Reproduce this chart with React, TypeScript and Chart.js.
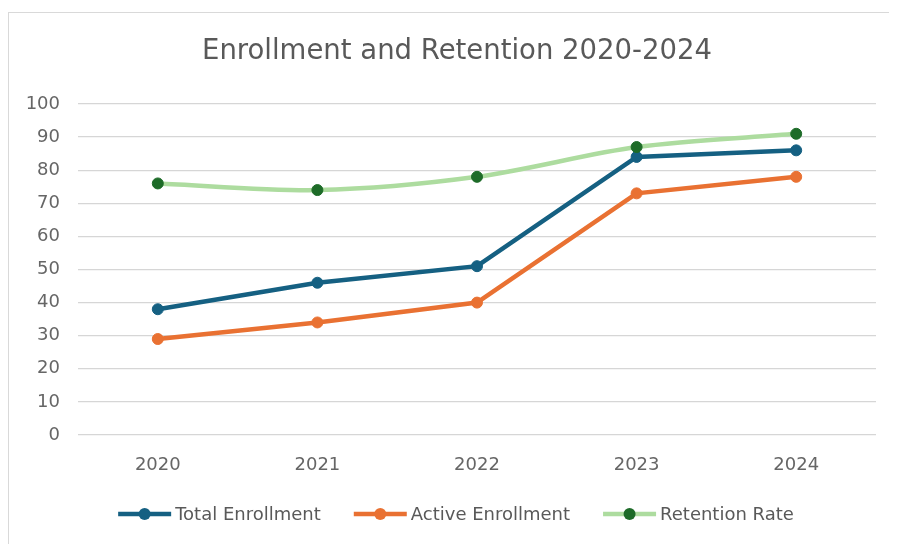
import React, { useEffect, useRef } from "react";
import { Chart, registerables } from "chart.js";

Chart.register(...registerables);

const categories = ["2020", "2021", "2022", "2023", "2024"];
const totalEnrollment = [38, 46, 51, 84, 86];
const activeEnrollment = [29, 34, 40, 73, 78];
const retentionRate = [76, 74, 78, 87, 91];
const seriesNames = ["Total Enrollment", "Active Enrollment", "Retention Rate"];
const yMin = 0;
const yMax = 100;
const yStep = 10;
const titleText = "Enrollment and Retention 2020-2024";

const FONT = "'DejaVu Sans', sans-serif";
const TEXT_COLOR = "#595959";
const CENTER_X = 447;

const titleLegendPlugin = {
  id: "titleLegend",
  afterDraw(chart: any) {
    const ctx = chart.ctx as CanvasRenderingContext2D;
    ctx.save();
    // title
    ctx.font = `27.5px ${FONT}`;
    ctx.fillStyle = TEXT_COLOR;
    ctx.textAlign = "center";
    ctx.textBaseline = "middle";
    ctx.fillText(titleText, CENTER_X + 1, 39);

    // legend
    const y = 501;
    const lineLen = 53;
    const gapText = 4;
    const gapItem = 33;
    ctx.font = `18px ${FONT}`;
    const items = chart.data.datasets.map((ds: any) => ({
      ds,
      w: lineLen + gapText + ctx.measureText(ds.label).width,
    }));
    const total = items.reduce((s: number, it: any) => s + it.w, 0) + gapItem * (items.length - 1);
    let x = CENTER_X - total / 2;
    for (const it of items) {
      const ds = it.ds;
      ctx.strokeStyle = ds.borderColor;
      ctx.lineWidth = ds.borderWidth;
      ctx.lineCap = "butt";
      ctx.beginPath();
      ctx.moveTo(x, y);
      ctx.lineTo(x + lineLen, y);
      ctx.stroke();
      ctx.fillStyle = ds.pointBackgroundColor;
      ctx.beginPath();
      ctx.arc(x + lineLen / 2, y, 6, 0, Math.PI * 2);
      ctx.fill();
      ctx.fillStyle = TEXT_COLOR;
      ctx.textAlign = "left";
      ctx.textBaseline = "middle";
      ctx.fillText(ds.label, x + lineLen + gapText, y + 1);
      x += it.w + gapItem;
    }
    ctx.restore();
  },
};

export default function App() {
  const canvasRef = useRef<HTMLCanvasElement | null>(null);

  useEffect(() => {
    if (!canvasRef.current) return;
    const chart = new Chart(canvasRef.current, {
      type: "line",
      data: {
        labels: categories,
        datasets: [
          {
            label: seriesNames[0],
            data: totalEnrollment,
            borderColor: "#156082",
            backgroundColor: "#156082",
            pointBackgroundColor: "#156082",
            pointBorderColor: "#156082",
            borderWidth: 4.5,
            pointRadius: 5.5,
            pointBorderWidth: 1,
            tension: 0,
            order: 2,
          },
          {
            label: seriesNames[1],
            data: activeEnrollment,
            borderColor: "#E97132",
            backgroundColor: "#E97132",
            pointBackgroundColor: "#E97132",
            pointBorderColor: "#E97132",
            borderWidth: 4.5,
            pointRadius: 5.5,
            pointBorderWidth: 1,
            tension: 0,
            order: 1,
          },
          {
            label: seriesNames[2],
            data: retentionRate,
            borderColor: "#addc9f",
            backgroundColor: "#1d6b28",
            pointBackgroundColor: "#1d6b28",
            pointBorderColor: "#1d6b28",
            borderWidth: 4.5,
            pointRadius: 5.5,
            pointBorderWidth: 1,
            tension: 0.3,
            order: 0,
          },
        ],
      },
      options: {
        responsive: true,
        maintainAspectRatio: false,
        animation: false,
        layout: { padding: { left: 0, right: 13, top: 91, bottom: 59 } },
        plugins: {
          legend: { display: false },
          tooltip: { enabled: false },
          title: { display: false },
        },
        scales: {
          x: {
            offset: true,
            grid: { display: false, drawTicks: false },
            border: { display: false },
            ticks: {
              color: "#666666",
              font: { family: FONT, size: 18 },
              padding: 20,
            },
            afterFit(scale: any) {
              scale.height = 50;
            },
          },
          y: {
            min: yMin,
            max: yMax,
            grid: { color: "#d6d6d6", lineWidth: 1.3, drawTicks: false },
            border: { display: false },
            ticks: {
              stepSize: yStep,
              color: "#666666",
              font: { family: FONT, size: 18 },
              padding: 18,
            },
            afterFit(scale: any) {
              scale.width = 69;
            },
          },
        },
      },
      plugins: [titleLegendPlugin],
    });
    return () => chart.destroy();
  }, []);

  return (
    <div style={{ paddingTop: 4 }}>
      <div
        style={{
          width: 880,
          height: 531,
          borderTop: "1px solid #d9d9d9",
          borderLeft: "1px solid #d9d9d9",
          borderRight: "1px solid #d9d9d9",
          position: "relative",
          background: "#ffffff",
        }}
      >
        <canvas ref={canvasRef} />
      </div>
    </div>
  );
}
